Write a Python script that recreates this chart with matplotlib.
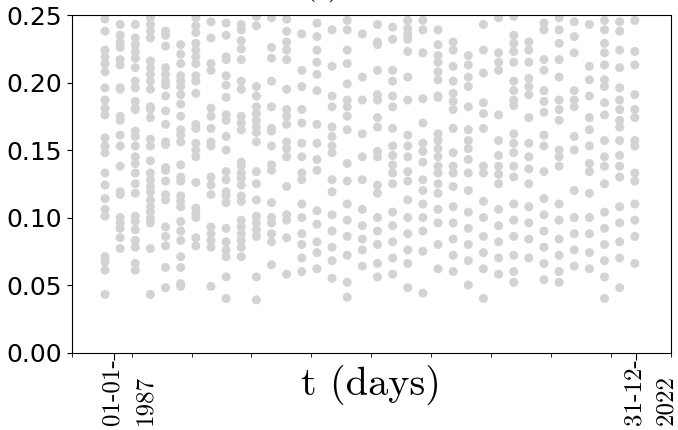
import numpy as np
import matplotlib.pyplot as plt
from matplotlib.transforms import ScaledTranslation

plt.rcParams['mathtext.fontset'] = 'cm'

# time axis in days counted from 01-01-1987
t_first, t_last = 0, 13148
x_lo, x_hi = -1066, 14030

seasons = list(range(1987, 2023))
# sampled values per season (only the part below 0.25 is shown)
season_vals = [
    [0.253, 0.247, 0.238, 0.224, 0.219, 0.214, 0.208, 0.196, 0.187, 0.181, 0.176, 0.159, 0.153, 0.148, 0.133, 0.124, 0.114, 0.106, 0.101, 0.071, 0.067, 0.061, 0.043],
    [0.243, 0.235, 0.230, 0.226, 0.217, 0.213, 0.196, 0.195, 0.175, 0.172, 0.161, 0.153, 0.138, 0.119, 0.117, 0.100, 0.096, 0.092, 0.085, 0.077],
    [0.243, 0.233, 0.228, 0.223, 0.218, 0.211, 0.201, 0.196, 0.186, 0.181, 0.180, 0.164, 0.160, 0.153, 0.145, 0.140, 0.133, 0.125, 0.118, 0.101, 0.097, 0.091, 0.083, 0.078, 0.066, 0.061],
    [0.248, 0.243, 0.238, 0.233, 0.216, 0.211, 0.206, 0.201, 0.195, 0.182, 0.180, 0.174, 0.158, 0.153, 0.142, 0.133, 0.128, 0.123, 0.119, 0.113, 0.108, 0.104, 0.099, 0.096, 0.077, 0.043],
    [0.238, 0.235, 0.227, 0.211, 0.206, 0.201, 0.198, 0.190, 0.179, 0.169, 0.156, 0.154, 0.137, 0.135, 0.127, 0.117, 0.113, 0.093, 0.086, 0.079, 0.063, 0.048],
    [0.253, 0.228, 0.221, 0.214, 0.205, 0.201, 0.197, 0.191, 0.184, 0.175, 0.165, 0.161, 0.156, 0.139, 0.130, 0.127, 0.116, 0.112, 0.108, 0.097, 0.090, 0.083, 0.071, 0.063, 0.051, 0.049],
    [0.248, 0.242, 0.237, 0.229, 0.224, 0.219, 0.214, 0.205, 0.201, 0.192, 0.169, 0.166, 0.155, 0.150, 0.145, 0.126, 0.107, 0.103, 0.100, 0.085, 0.079],
    [0.245, 0.233, 0.214, 0.209, 0.181, 0.175, 0.166, 0.156, 0.153, 0.130, 0.124, 0.117, 0.093, 0.088, 0.083, 0.078, 0.049],
    [0.253, 0.244, 0.235, 0.219, 0.217, 0.205, 0.198, 0.189, 0.176, 0.172, 0.160, 0.150, 0.134, 0.128, 0.119, 0.116, 0.111, 0.092, 0.082, 0.076, 0.071, 0.056, 0.040],
    [0.243, 0.239, 0.231, 0.225, 0.217, 0.201, 0.195, 0.175, 0.170, 0.165, 0.141, 0.138, 0.133, 0.129, 0.124, 0.116, 0.112, 0.098, 0.093, 0.088, 0.083, 0.078, 0.071],
    [0.249, 0.242, 0.197, 0.190, 0.182, 0.177, 0.172, 0.167, 0.163, 0.156, 0.134, 0.125, 0.113, 0.101, 0.096, 0.091, 0.086, 0.056, 0.039],
    [0.248, 0.226, 0.218, 0.201, 0.182, 0.166, 0.164, 0.153, 0.139, 0.135, 0.111, 0.100, 0.096, 0.088, 0.082, 0.065],
    [0.247, 0.238, 0.230, 0.224, 0.217, 0.195, 0.180, 0.175, 0.169, 0.156, 0.151, 0.145, 0.123, 0.102, 0.098, 0.085, 0.058],
    [0.236, 0.209, 0.197, 0.180, 0.170, 0.155, 0.145, 0.133, 0.128, 0.110, 0.100, 0.088, 0.080, 0.070, 0.060],
    [0.244, 0.234, 0.224, 0.215, 0.206, 0.194, 0.169, 0.155, 0.143, 0.135, 0.105, 0.095, 0.082, 0.074, 0.062],
    [0.239, 0.212, 0.190, 0.182, 0.167, 0.160, 0.153, 0.148, 0.128, 0.119, 0.102, 0.090, 0.078, 0.068, 0.055],
    [0.253, 0.246, 0.239, 0.224, 0.214, 0.199, 0.187, 0.182, 0.175, 0.165, 0.140, 0.127, 0.110, 0.098, 0.086, 0.072, 0.052, 0.041],
    [0.236, 0.204, 0.187, 0.162, 0.145, 0.128, 0.106, 0.094, 0.084, 0.076, 0.064],
    [0.243, 0.230, 0.228, 0.209, 0.191, 0.187, 0.174, 0.167, 0.149, 0.145, 0.124, 0.118, 0.100, 0.090, 0.080, 0.066, 0.056],
    [0.241, 0.232, 0.209, 0.201, 0.190, 0.182, 0.166, 0.153, 0.146, 0.139, 0.133, 0.125, 0.104, 0.094, 0.082, 0.070, 0.058],
    [0.246, 0.240, 0.236, 0.232, 0.223, 0.204, 0.187, 0.161, 0.153, 0.145, 0.134, 0.127, 0.113, 0.100, 0.088, 0.076, 0.066, 0.048],
    [0.246, 0.239, 0.222, 0.188, 0.170, 0.155, 0.149, 0.141, 0.128, 0.120, 0.110, 0.100, 0.090, 0.075, 0.044],
    [0.239, 0.228, 0.220, 0.215, 0.208, 0.202, 0.190, 0.189, 0.162, 0.157, 0.151, 0.145, 0.138, 0.133, 0.125, 0.118, 0.106, 0.096, 0.080, 0.062],
    [0.230, 0.224, 0.212, 0.201, 0.192, 0.186, 0.180, 0.166, 0.148, 0.138, 0.133, 0.123, 0.108, 0.096, 0.084, 0.072, 0.060],
    [0.253, 0.220, 0.213, 0.204, 0.197, 0.182, 0.165, 0.157, 0.151, 0.143, 0.133, 0.120, 0.104, 0.092, 0.080, 0.068, 0.050],
    [0.253, 0.243, 0.224, 0.207, 0.185, 0.177, 0.166, 0.138, 0.133, 0.112, 0.100, 0.086, 0.074, 0.062, 0.040],
    [0.248, 0.222, 0.215, 0.209, 0.176, 0.157, 0.146, 0.138, 0.132, 0.125, 0.106, 0.094, 0.082, 0.070, 0.058],
    [0.249, 0.235, 0.229, 0.223, 0.215, 0.201, 0.194, 0.187, 0.183, 0.162, 0.155, 0.148, 0.138, 0.130, 0.110, 0.098, 0.086, 0.072, 0.060, 0.052],
    [0.230, 0.224, 0.215, 0.203, 0.197, 0.191, 0.174, 0.155, 0.145, 0.136, 0.125, 0.108, 0.096, 0.084, 0.070],
    [0.253, 0.244, 0.239, 0.217, 0.209, 0.194, 0.186, 0.178, 0.161, 0.153, 0.134, 0.114, 0.102, 0.090, 0.078, 0.066, 0.054],
    [0.248, 0.239, 0.229, 0.217, 0.204, 0.187, 0.180, 0.172, 0.150, 0.145, 0.138, 0.110, 0.098, 0.084, 0.072, 0.060, 0.052],
    [0.245, 0.234, 0.222, 0.194, 0.187, 0.182, 0.160, 0.150, 0.120, 0.100, 0.088, 0.076, 0.064],
    [0.243, 0.212, 0.202, 0.190, 0.174, 0.165, 0.153, 0.140, 0.134, 0.118, 0.100, 0.088, 0.074, 0.062],
    [0.246, 0.239, 0.229, 0.222, 0.213, 0.202, 0.197, 0.185, 0.176, 0.157, 0.145, 0.138, 0.125, 0.104, 0.092, 0.080, 0.068, 0.056, 0.040],
    [0.245, 0.238, 0.224, 0.211, 0.196, 0.187, 0.180, 0.172, 0.167, 0.157, 0.146, 0.138, 0.130, 0.108, 0.096, 0.082, 0.070, 0.048],
    [0.246, 0.223, 0.213, 0.191, 0.180, 0.174, 0.157, 0.153, 0.133, 0.127, 0.110, 0.098, 0.086, 0.066],
]

# centre of each season's column on the day axis
col_day = [-227 + 381.5 * i for i in range(len(seasons))]

xs, ys = [], []
for d, v in zip(col_day, season_vals):
    xs += [d] * len(v)
    ys += v

fig = plt.figure(figsize=(6.78, 4.30), dpi=100)
ax = fig.add_axes([0.1058, 0.1802, 0.8834, 0.7849])

ax.scatter(xs, ys, s=42, color='lightgray', edgecolors='none')

ax.set_xlim(x_lo, x_hi)
ax.set_ylim(0, 0.25)
ax.set_yticks([0, 0.05, 0.10, 0.15, 0.20, 0.25])
ax.set_yticklabels(['0.00', '0.05', '0.10', '0.15', '0.20', '0.25'], fontsize=18)

ax.set_xticks(np.linspace(x_lo, x_hi, 11), minor=True)
ax.set_xticks([t_first, t_last])
ax.set_xticklabels(['01-01-\n1987', '31-12-\n2022'], rotation=90, fontfamily='cmr10',
                   fontsize=18, multialignment='left', linespacing=1.6)
ax.tick_params(axis='x', which='major', length=5, pad=-1)
ax.tick_params(axis='x', which='minor', length=3)
for lbl in ax.get_xticklabels():
    lbl.set_transform(lbl.get_transform() + ScaledTranslation(0.145, 0, fig.dpi_scale_trans))

ax.set_xlabel('t (days)', fontfamily='cmr10', fontsize=29, va='top')
ax.xaxis.set_label_coords(0.5, -0.035)

ax.set_title(r'$\sigma(t)$', fontsize=23, pad=15, x=0.40)

fig.savefig('out.png', dpi=100)
